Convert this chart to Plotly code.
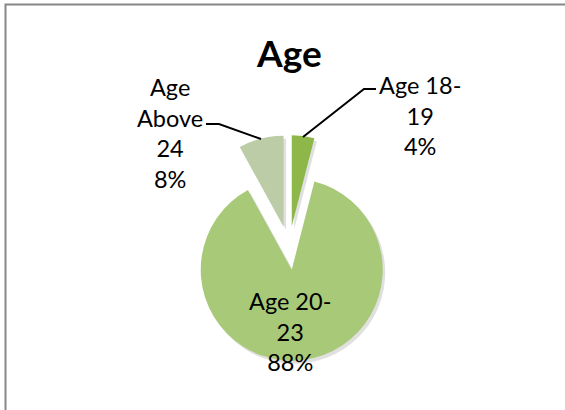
import plotly.graph_objects as go

W, H = 565, 410

labels = ['Age 18-19', 'Age 20-23', 'Age Above 24']
values = [4, 88, 8]
label_lines = ['Age 18-<br>19', 'Age 20-<br>23', 'Age<br>Above<br>24']
colors = ['#8db849', '#a8c977', '#bccca6']

# label centres in pixels (x, y from top)
label_pos = [(420, 115), (290, 331), (170, 133)]
# leader lines (pixel points) for the outside labels, None = inside label
leaders = [
    [(303, 137), (364, 89), (376, 89)],
    None,
    [(261, 139), (219, 124), (206, 124)],
]


def px(x, y):
    return x / W, 1 - y / H


def pie_domain(cx, cy, half):
    return dict(x=[(cx - half) / W, (cx + half) / W],
                y=[(H - cy - half) / H, (H - cy + half) / H])


PULL = 0.24
R = 91
half = R * (1 + PULL)

fig = go.Figure()

# soft shadow behind the slices
fig.add_trace(go.Pie(
    labels=labels, values=values, sort=False, direction='clockwise',
    pull=[PULL] * 3, textinfo='none', hoverinfo='skip',
    marker=dict(colors=['rgba(0,0,0,0.12)'] * 3, line=dict(width=0)),
    domain=pie_domain(291.5, 251, half), showlegend=False,
))
fig.add_trace(go.Pie(
    labels=labels, values=values, sort=False, direction='clockwise',
    pull=[PULL] * 3, textinfo='none',
    marker=dict(colors=colors, line=dict(width=0)),
    domain=pie_domain(289, 248, half), showlegend=False,
))

total = sum(values)
for i, lab in enumerate(label_lines):
    pct = round(values[i] / total * 100)
    x, y = px(*label_pos[i])
    fig.add_annotation(
        x=x, y=y, xref='paper', yref='paper', showarrow=False,
        text=f"{lab}<br>{pct}%", align='center',
        xanchor='center', yanchor='middle',
        font=dict(family='Lato', size=23.5, color='#000000'),
    )
    if leaders[i]:
        pts = [px(a, b) for a, b in leaders[i]]
        path = 'M ' + ' L '.join(f'{a},{b}' for a, b in pts)
        fig.add_shape(type='path', path=path, xref='paper', yref='paper',
                      line=dict(color='#000000', width=2))

# chart area border: only the top and left edges show in the crop
border = [px(5.5, 410), px(5.5, 4.5), px(565, 4.5)]
fig.add_shape(type='path', path='M ' + ' L '.join(f'{a},{b}' for a, b in border),
              xref='paper', yref='paper', line=dict(color='#878787', width=2))

tx, ty = px(289, 52)
fig.add_annotation(
    x=tx, y=ty, xref='paper', yref='paper', showarrow=False,
    text='<b>Age</b>', xanchor='center', yanchor='middle',
    font=dict(family='Lato', size=37, color='#000000'),
)

fig.update_layout(
    width=W, height=H,
    margin=dict(l=0, r=0, t=0, b=0),
    paper_bgcolor='white', plot_bgcolor='white',
)

# drop the default page margin and scrollbars so the figure fills the window
fig.write_html("out.html", config={'displayModeBar': False},
               post_script="document.body.style.margin='0';"
                           "document.body.style.overflow='hidden';")
